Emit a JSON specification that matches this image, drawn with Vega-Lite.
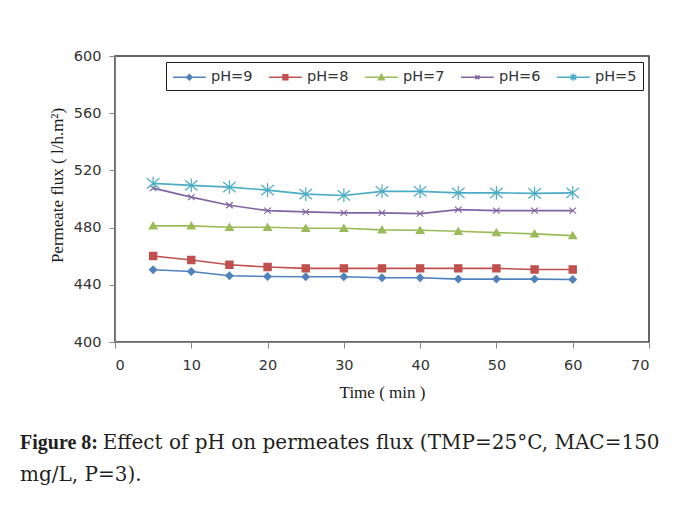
{
  "$schema": "https://vega.github.io/schema/vega-lite/v6.json",
  "width": 534,
  "height": 286,
  "autosize": {"type": "none"},
  "padding": {"left": 115, "top": 56, "right": 28, "bottom": 176},
  "background": "white",
  "title": {
    "text": "Figure 8:",
    "subtitle": ["\u200b\u00a0\u00a0\u00a0\u00a0\u00a0\u00a0\u00a0\u00a0\u00a0\u00a0\u00a0\u00a0\u00a0Effect of pH on permeates flux (TMP=25°C, MAC=150", "mg/L, P=3)."],
    "orient": "bottom",
    "anchor": "start",
    "frame": "group",
    "dx": -95,
    "offset": 32,
    "font": "Liberation Serif",
    "fontSize": 20,
    "fontWeight": "bold",
    "color": "#231f20",
    "subtitleFont": "DejaVu Serif",
    "subtitleFontSize": 20,
    "subtitleFontWeight": "normal",
    "subtitleColor": "#231f20",
    "subtitleLineHeight": 32,
    "subtitlePadding": -20
  },
  "data": {
    "values": [
      {"t": 5, "s": "pH=9", "v": 450.5}, {"t": 10, "s": "pH=9", "v": 449.3}, {"t": 15, "s": "pH=9", "v": 446.3}, {"t": 20, "s": "pH=9", "v": 445.8},
      {"t": 25, "s": "pH=9", "v": 445.6}, {"t": 30, "s": "pH=9", "v": 445.6}, {"t": 35, "s": "pH=9", "v": 444.9}, {"t": 40, "s": "pH=9", "v": 444.9},
      {"t": 45, "s": "pH=9", "v": 444.0}, {"t": 50, "s": "pH=9", "v": 444.0}, {"t": 55, "s": "pH=9", "v": 444.0}, {"t": 60, "s": "pH=9", "v": 443.7},
      {"t": 5, "s": "pH=8", "v": 460.1}, {"t": 10, "s": "pH=8", "v": 457.3}, {"t": 15, "s": "pH=8", "v": 454.0}, {"t": 20, "s": "pH=8", "v": 452.4},
      {"t": 25, "s": "pH=8", "v": 451.5}, {"t": 30, "s": "pH=8", "v": 451.5}, {"t": 35, "s": "pH=8", "v": 451.5}, {"t": 40, "s": "pH=8", "v": 451.5},
      {"t": 45, "s": "pH=8", "v": 451.5}, {"t": 50, "s": "pH=8", "v": 451.5}, {"t": 55, "s": "pH=8", "v": 450.7}, {"t": 60, "s": "pH=8", "v": 450.7},
      {"t": 5, "s": "pH=7", "v": 481.2}, {"t": 10, "s": "pH=7", "v": 481.2}, {"t": 15, "s": "pH=7", "v": 480.2}, {"t": 20, "s": "pH=7", "v": 480.2},
      {"t": 25, "s": "pH=7", "v": 479.5}, {"t": 30, "s": "pH=7", "v": 479.5}, {"t": 35, "s": "pH=7", "v": 478.4}, {"t": 40, "s": "pH=7", "v": 478.1},
      {"t": 45, "s": "pH=7", "v": 477.4}, {"t": 50, "s": "pH=7", "v": 476.5}, {"t": 55, "s": "pH=7", "v": 475.6}, {"t": 60, "s": "pH=7", "v": 474.4},
      {"t": 5, "s": "pH=6", "v": 507.6}, {"t": 10, "s": "pH=6", "v": 501.3}, {"t": 15, "s": "pH=6", "v": 495.6}, {"t": 20, "s": "pH=6", "v": 491.9},
      {"t": 25, "s": "pH=6", "v": 491.0}, {"t": 30, "s": "pH=6", "v": 490.3}, {"t": 35, "s": "pH=6", "v": 490.3}, {"t": 40, "s": "pH=6", "v": 489.8},
      {"t": 45, "s": "pH=6", "v": 492.6}, {"t": 50, "s": "pH=6", "v": 491.9}, {"t": 55, "s": "pH=6", "v": 491.9}, {"t": 60, "s": "pH=6", "v": 491.9},
      {"t": 5, "s": "pH=5", "v": 510.9}, {"t": 10, "s": "pH=5", "v": 509.5}, {"t": 15, "s": "pH=5", "v": 508.3}, {"t": 20, "s": "pH=5", "v": 506.2},
      {"t": 25, "s": "pH=5", "v": 503.4}, {"t": 30, "s": "pH=5", "v": 502.5}, {"t": 35, "s": "pH=5", "v": 505.3}, {"t": 40, "s": "pH=5", "v": 505.3},
      {"t": 45, "s": "pH=5", "v": 504.3}, {"t": 50, "s": "pH=5", "v": 504.3}, {"t": 55, "s": "pH=5", "v": 503.9}, {"t": 60, "s": "pH=5", "v": 504.3}
    ]
  },
  "encoding": {
    "x": {
      "field": "t", "type": "quantitative", "title": "Time ( min )",
      "scale": {"domain": [0, 70], "nice": false},
      "axis": {"values": [0, 10, 20, 30, 40, 50, 60, 70], "labelPadding": 10, "titlePadding": 13}
    },
    "y": {
      "field": "v", "type": "quantitative", "title": "Permeate flux ( l/h.m²)",
      "scale": {"domain": [400, 600], "nice": false, "zero": false},
      "axis": {"values": [400, 440, 480, 520, 560, 600], "labelPadding": 8, "titlePadding": 7, "titleY": 129}
    },
    "color": {
      "field": "s", "type": "nominal", "title": null,
      "scale": {"domain": ["pH=9", "pH=8", "pH=7", "pH=6", "pH=5"], "range": ["#4f81bd", "#c0504d", "#9bbb59", "#8064a2", "#4bacc6"]}
    }
  },
  "layer": [
    {
      "mark": {"type": "line", "strokeWidth": 1.6}
    },
    {
      "transform": [{"filter": "datum.s === 'pH=9'"}],
      "mark": {"type": "point", "filled": true, "opacity": 1, "size": 144, "strokeWidth": 1.2, "shape": "M0,-0.6L0.6,0L0,0.6L-0.6,0Z", "stroke": "#4f81bd"}
    },
    {
      "transform": [{"filter": "datum.s === 'pH=8'"}],
      "mark": {"type": "point", "filled": true, "opacity": 1, "size": 144, "strokeWidth": 1.2, "shape": "M-0.6,-0.6H0.6V0.6H-0.6Z", "stroke": "#c0504d"}
    },
    {
      "transform": [{"filter": "datum.s === 'pH=7'"}],
      "mark": {"type": "point", "filled": true, "opacity": 1, "size": 144, "strokeWidth": 1.2, "shape": "M0,-0.6L0.65,0.5H-0.65Z", "stroke": "#9bbb59"}
    },
    {
      "transform": [{"filter": "datum.s === 'pH=6'"}],
      "mark": {"type": "point", "filled": true, "opacity": 1, "size": 144, "strokeWidth": 1.2, "shape": "M-0.55,-0.5L0.55,0.5M-0.55,0.5L0.55,-0.5", "stroke": "#8064a2"}
    },
    {
      "transform": [{"filter": "datum.s === 'pH=5'"}],
      "mark": {"type": "point", "filled": true, "opacity": 1, "size": 144, "strokeWidth": 1.2, "shape": "M-1.05,-0.85L1.05,0.85M-1.05,0.85L1.05,-0.85M0,-1.15V1.15", "stroke": "#4bacc6"}
    },
    {
      "mark": {"type": "point", "filled": true, "opacity": 0},
      "encoding": {
        "stroke": {
          "field": "s", "type": "nominal", "title": null,
          "scale": {"domain": ["pH=9", "pH=8", "pH=7", "pH=6", "pH=5"], "range": ["#4f81bd", "#c0504d", "#9bbb59", "#8064a2", "#4bacc6"]}
        },
        "shape": {
          "field": "s", "type": "nominal", "title": null,
          "scale": {
            "domain": ["pH=9", "pH=8", "pH=7", "pH=6", "pH=5"],
            "range": [
              "M-1,0H3.1M1.05,-0.35L1.4,0L1.05,0.35L0.7,0Z",
              "M-1,0H3.1M0.75,-0.3H1.35V0.3H0.75Z",
              "M-1,0H3.1M1.05,-0.35L1.4,0.3H0.7Z",
              "M-1,0H3.1M0.8,-0.25L1.3,0.25M0.8,0.25L1.3,-0.25",
              "M-1,0H3.1M0.7,-0.3L1.4,0.3M0.7,0.3L1.4,-0.3M1.05,-0.45V0.45"
            ]
          }
        }
      }
    }
  ],
  "config": {
    "view": {"stroke": "#333333", "strokeWidth": 1.5},
    "axis": {
      "grid": false,
      "domainColor": "#868686",
      "domainWidth": 1.2,
      "tickColor": "#868686",
      "tickSize": 6,
      "labelFont": "DejaVu Sans",
      "labelFontSize": 14.5,
      "labelColor": "#333333",
      "titleFont": "Liberation Serif",
      "titleFontSize": 17,
      "titleFontWeight": "normal",
      "titleColor": "#1a1a1a"
    },
    "legend": {
      "orient": "top-right",
      "offset": 6,
      "direction": "horizontal",
      "columns": 5,
      "strokeColor": "#1a1a1a",
      "padding": 6,
      "symbolSize": 256,
      "symbolStrokeWidth": 1.5,
      "symbolOpacity": 1,
      "labelOffset": 21,
      "columnPadding": 13,
      "labelFont": "DejaVu Sans",
      "labelFontSize": 14.5,
      "labelColor": "#333333"
    }
  }
}
